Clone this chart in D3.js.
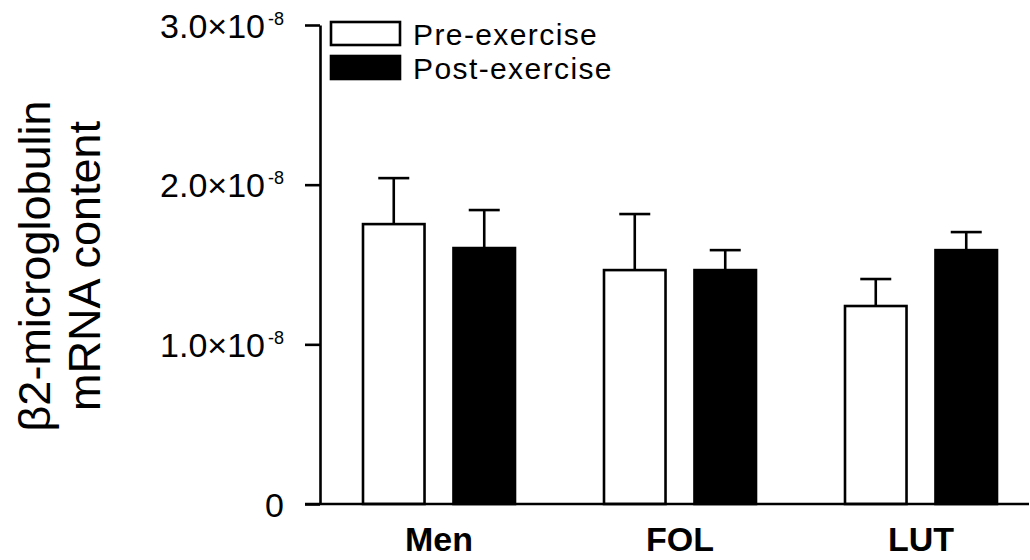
<!DOCTYPE html>
<html>
<head>
<meta charset="utf-8">
<script src="https://cdn.jsdelivr.net/npm/d3@7"></script>
<style>
  html, body { margin: 0; padding: 0; background: #fff; }
  svg { display: block; font-family: "Liberation Sans", Arial, sans-serif; }
</style>
</head>
<body>
<svg id="chart" width="1030" height="560"></svg>
<script>
// ---- data ----
const categories = ["Men", "FOL", "LUT"];
const seriesNames = ["Pre-exercise", "Post-exercise"];
const preMean  = [1.753e-8, 1.465e-8, 1.240e-8];
const preErr   = [0.288e-8, 0.351e-8, 0.169e-8];
const postMean = [1.603e-8, 1.465e-8, 1.590e-8];
const postErr  = [0.238e-8, 0.125e-8, 0.113e-8];
const yTickValues = [0, 1e-8, 2e-8, 3e-8];
const yTickMantissa = ["0", "1.0×10", "2.0×10", "3.0×10"];
const yTickExponent = ["", "-8", "-8", "-8"];
const yTitleLines = ["β2-microglobulin", "mRNA content"];

// ---- layout ----
const svg = d3.select("#chart");
const axisX = 320, baseY = 504, topY = 25;
const y = d3.scaleLinear().domain([0, 3e-8]).range([baseY, topY]);
const x0 = d3.scaleBand().domain(categories).range([318.5, 1041.5]).padding(0);
const groupW = 152;
const x1 = d3.scaleBand().domain(seriesNames).range([0, groupW]).paddingInner(0.32).paddingOuter(0);
const groupOff = (x0.bandwidth() - groupW) / 2;

const rows = [];
categories.forEach((c, i) => {
  rows.push({cat: c, s: seriesNames[0], v: preMean[i], e: preErr[i], fill: "#fff"});
  rows.push({cat: c, s: seriesNames[1], v: postMean[i], e: postErr[i], fill: "#000"});
});

const sw = 2.6;

// error bars (drawn first so the bar outline covers the join)
const eb = svg.append("g");
rows.forEach(d => {
  const cx = x0(d.cat) + groupOff + x1(d.s) + x1.bandwidth() / 2;
  eb.append("line").attr("x1", cx).attr("x2", cx)
    .attr("y1", y(d.v)).attr("y2", y(d.v + d.e))
    .attr("stroke", "#000").attr("stroke-width", sw);
  eb.append("line").attr("x1", cx - 15.5).attr("x2", cx + 15.5)
    .attr("y1", y(d.v + d.e)).attr("y2", y(d.v + d.e))
    .attr("stroke", "#000").attr("stroke-width", sw);
});

// bars
svg.append("g").selectAll("rect").data(rows).join("rect")
  .attr("x", d => x0(d.cat) + groupOff + x1(d.s))
  .attr("y", d => y(d.v))
  .attr("width", x1.bandwidth())
  .attr("height", d => y(0) - y(d.v))
  .attr("fill", d => d.fill)
  .attr("stroke", "#000")
  .attr("stroke-width", sw);

// y axis
const yAxis = d3.axisLeft(y).tickValues(yTickValues).tickSize(15).tickSizeOuter(0).tickPadding(21)
  .tickFormat(() => "");
const gy = svg.append("g").attr("transform", `translate(${axisX},0)`).call(yAxis);
gy.select(".domain").attr("stroke", "#000").attr("stroke-width", sw);
gy.selectAll(".tick line").attr("stroke", "#000").attr("stroke-width", sw);
gy.selectAll(".tick text").each(function(d, i) {
  const t = d3.select(this);
  t.text(null).attr("font-size", 34).attr("fill", "#000")
   .attr("font-family", "'Liberation Sans', Arial, sans-serif")
   .attr("dy", null).attr("y", 12);
  t.append("tspan").text(yTickMantissa[i]);
  if (yTickExponent[i]) {
    t.append("tspan").attr("font-size", 18).attr("dx", 3).attr("dy", -13).text(yTickExponent[i]);
  }
});

// x axis line
svg.append("line").attr("x1", axisX - 15).attr("x2", 1029)
  .attr("y1", y(0)).attr("y2", y(0))
  .attr("stroke", "#000").attr("stroke-width", sw);

// x category labels
svg.append("g").selectAll("text").data(categories).join("text")
  .attr("x", d => x0(d) + x0.bandwidth() / 2)
  .attr("y", 551)
  .attr("text-anchor", "middle")
  .attr("font-size", 34).attr("font-weight", "bold")
  .text(d => d);

// y title
svg.append("g").selectAll("text").data(yTitleLines).join("text")
  .attr("transform", (d, i) => `translate(${50 + i * 50},266) rotate(-90)`)
  .attr("text-anchor", "middle")
  .attr("font-size", 45)
  .text(d => d);

// legend
const leg = svg.append("g");
const legFill = ["#fff", "#000"];
seriesNames.forEach((s, i) => {
  leg.append("rect").attr("x", 331).attr("y", 22 + i * 34).attr("width", 69).attr("height", 23)
    .attr("fill", legFill[i]).attr("stroke", "#000").attr("stroke-width", sw);
  leg.append("text").attr("x", 413).attr("y", 45 + i * 34)
    .attr("font-size", 30).attr("letter-spacing", 1.4).text(s);
});
</script>
</body>
</html>
